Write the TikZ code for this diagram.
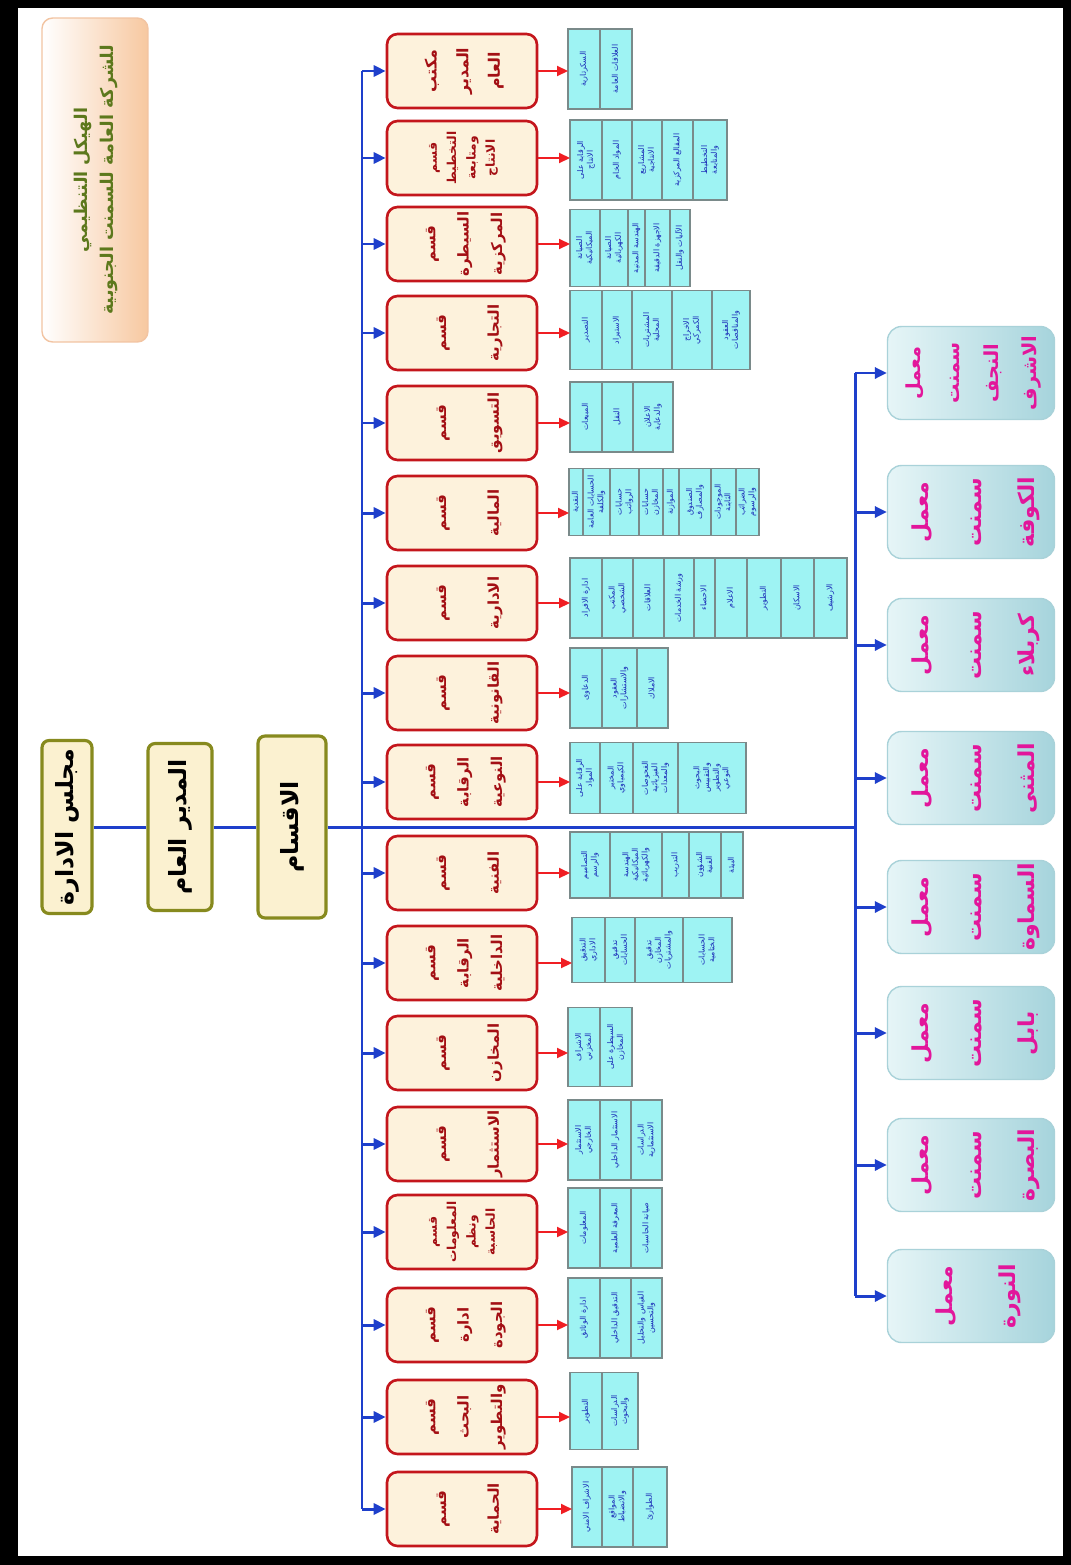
\documentclass[tikz,border=0pt]{standalone}
\usepackage{fontspec}
\usepackage{graphicx,array}
\usetikzlibrary{arrows.meta,positioning,calc}
\newfontfamily\arabicfont[Script=Arabic]{DejaVu Sans}
\TeXXeTstate=1
\definecolor{LineBlue}{HTML}{1E3FCB}
\definecolor{ArrowRed}{HTML}{F01E23}
\definecolor{DeptRed}{HTML}{C4161C}
\definecolor{DeptText}{HTML}{A30F14}
\definecolor{Cream}{HTML}{FDF2DC}
\definecolor{Olive}{HTML}{878A1E}
\definecolor{OliveFill}{HTML}{FBF1D0}
\definecolor{Aqua}{HTML}{9EF3F3}
\definecolor{CellLine}{HTML}{7A8A8A}
\definecolor{CellText}{HTML}{1B2DB8}
\definecolor{Ice}{HTML}{E6F5F7}
\definecolor{IceDeep}{HTML}{A6D4DC}
\definecolor{IceLine}{HTML}{A9D2D9}
\definecolor{Magenta}{HTML}{E2169B}
\definecolor{Peach}{HTML}{F7C8A0}
\definecolor{PeachLine}{HTML}{F2C4A2}
\definecolor{TitleGreen}{HTML}{5C781C}
% Arabic lines set as columns, read top to bottom
\newcommand{\vtext}[1]{\rotatebox{90}{\begin{tabular}{@{}c@{}}#1\end{tabular}}}
% one row of sub-units: #1 row, #2 centre y, #3 height, #4 left/width/text
\newcommand{\cellrow}[4]{%
  \foreach \xl/\w/\txt [count=\k] in {#4}{
    \node[cell,anchor=west,minimum width=\w*0.02cm,minimum height=#3*0.02cm] (c#1-\k) at (\xl,#2) {\vtext{\txt}};
  }
  \draw[rarrow] (d#1.east) -- (d#1.east -| c#1-1.west);
}

\begin{document}
\begin{tikzpicture}[x=0.02cm,y=-0.02cm]
    \tikzset{bline/.style={LineBlue,line width=1.7pt},
      barrow/.style={bline,-{Triangle[length=0.24cm,width=0.22cm]}},
      rarrow/.style={ArrowRed,line width=1.2pt,-{Triangle[length=0.22cm,width=0.2cm]}},
      titlebox/.style={rounded corners=6pt,draw=PeachLine,line width=0.8pt,left color=white,right color=Peach,
        minimum width=2.12cm,minimum height=6.48cm,inner sep=0pt,text=TitleGreen,
        font=\arabicfont\bfseries\fontsize{10}{15}\selectfont},
      chief/.style={rounded corners=4pt,draw=Olive,line width=1.8pt,fill=OliveFill,inner sep=0pt,
        font=\arabicfont\bfseries\fontsize{13.5}{18}\selectfont},
      deptbox/.style={rounded corners=6pt,draw=DeptRed,line width=1.5pt,fill=Cream,inner sep=0pt,
        minimum width=3cm,minimum height=1.48cm,text=DeptText},
      cell/.style={draw=CellLine,line width=0.6pt,fill=Aqua,inner sep=0pt,outer sep=0pt,text=CellText,
        font=\arabicfont\fontsize{4.5}{5.5}\selectfont},
      plant/.style={rounded corners=8pt,draw=IceLine,line width=0.8pt,left color=Ice,right color=IceDeep,
        minimum width=3.34cm,minimum height=1.86cm,inner sep=0pt,text=Magenta}}
    \useasboundingbox (0,0) rectangle (1071,1565);
    \fill[black] (0,0) rectangle (1071,1565);
    \fill[white] (18,8) rectangle (1063,1556);

    % title
    \node[titlebox] (title) at (95,180) {\vtext{\beginR الهيكل التنظيمي\endR\\\beginR للشركة العامة للسمنت الجنوبية\endR}};

    % board, director, divisions
    \node[chief,minimum width=1cm,minimum height=3.46cm] (board) at (67,827) {\vtext{\beginR مجلس الادارة\endR}};
    \node[chief,minimum width=1.28cm,minimum height=3.34cm] (gm) at (180,827) {\vtext{\beginR المدير العام\endR}};
    \node[chief,minimum width=1.36cm,minimum height=3.64cm] (divs) at (292,827) {\vtext{الاقسام}};
    \coordinate (hub) at (855,827);
    \draw[bline] (board) -- (gm);
    \draw[bline] (gm) -- (divs);
    \draw[bline] (divs) -- (hub);

    \coordinate (ltop) at (362,71);
    \coordinate (lbot) at (362,1509);
    \coordinate (rtop) at (855,373);
    \coordinate (rbot) at (855,1296);
    \draw[bline] (ltop) -- (lbot);
    \draw[bline] (rtop) -- (rbot);

    % departments: number/y/font size/line skip/text
    \foreach \i/\y/\fs/\bs/\txt in {1/71/9/18/{مكتب\\المدير\\العام},2/158/7/11/{قسم\\التخطيط\\ومتابعة\\الانتاج},
        3/244/8.5/19/{قسم\\السيطرة\\المركزية},4/333/8.5/30/{قسم\\التجارية},5/423/8.5/30/{قسم\\التسويق},
        6/513/8.5/30/{قسم\\المالية},7/603/8.5/30/{قسم\\الادارية},8/693/8.5/30/{قسم\\القانونية},
        9/782/8.5/19/{قسم\\الرقابة\\النوعية},10/873/8.5/30/{قسم\\الفنية},11/963/8.5/19/{قسم\\الرقابة\\الداخلية},
        12/1053/8.5/30/{قسم\\المخازن},13/1144/8.5/30/{قسم\\الاستثمار},14/1232/7/11/{قسم\\المعلومات\\ونظم\\الحاسبة},
        15/1325/8.5/19/{قسم\\ادارة\\الجودة},16/1417/8.5/19/{قسم\\البحث\\والتطوير},17/1509/8.5/30/{قسم\\الحماية}}{
      \node[deptbox,font=\arabicfont\bfseries\fontsize{\fs}{\bs}\selectfont] (d\i) at (462,\y) {\vtext{\txt}};
      \draw[barrow] (d\i.west -| ltop) -- (d\i.west);
    }

    % plants: number/y/font size/line skip/text
    \foreach \i/\y/\fs/\bs/\txt in {1/373/11/22/{معمل\\سمنت\\النجف\\الاشرف},2/512/12.5/30/{معمل\\سمنت\\الكوفة},
        3/645/12.5/30/{معمل\\سمنت\\كربلاء},4/778/12.5/30/{معمل\\سمنت\\المثنى},5/907/12.5/30/{معمل\\سمنت\\السماوة},
        6/1033/12.5/30/{معمل\\سمنت\\بابل},7/1165/12.5/30/{معمل\\سمنت\\البصرة},8/1296/12.5/36/{معمل\\النورة}}{
      \node[plant,font=\arabicfont\bfseries\fontsize{\fs}{\bs}\selectfont] (p\i) at (971,\y) {\vtext{\txt}};
      \draw[barrow] (p\i.west -| rtop) -- (p\i.west);
    }

    % sub-units
    \cellrow{1}{69}{80}{568/32/{السكرتارية},600/32/{\beginR العلاقات العامة\endR}}
    \cellrow{2}{160}{80}{570/32/{\beginR الرقابة على\endR\\الانتاج},602/30/{\beginR المواد الخام\endR},632/30/{المشاريع\\الانتاجية},
      662/31/{\beginR المقالع المركزية\endR},693/34/{التخطيط\\والمتابعة}}
    \cellrow{3}{248}{77}{570/30/{الصيانة\\الميكانيكية},600/28/{الصيانة\\الكهربائية},628/17/{\beginR الهندسة المدنية\endR},
      645/25/{\beginR الاجهزة الدقيقة\endR},670/20/{\beginR الآليات والنقل\endR}}
    \cellrow{4}{330}{79}{570/32/{التصدير},602/30/{الاستيراد},632/40/{المشتريات\\المحلية},
      672/40/{الاخراج\\الكمركي},712/38/{العقود\\والمناقصات}}
    \cellrow{5}{417}{70}{570/32/{المبيعات},602/31/{النقل},633/40/{الاعلان\\والدعاية}}
    \cellrow{6}{502}{67}{569/14/{النقدية},583/27/{\beginR الحسابات العامة\endR\\والكلفة},610/29/{حسابات\\الرواتب},
      639/24/{حسابات\\المخازن},663/16/{الموازنة},679/32/{الصندوق\\والمصارف},711/25/{الموجودات\\الثابتة},
      736/23/{الضرائب\\والرسوم}}
    \cellrow{7}{598}{80}{570/32/{\beginR ادارة الافراد\endR},602/31/{المكتب\\الشخصي},633/31/{العلاقات},664/30/{\beginR ورشة الخدمات\endR},
      694/21/{الاحصاء},715/32/{الاعلام},747/34/{التطوير},781/33/{الاسكان},814/33/{الارشيف}}
    \cellrow{8}{688}{80}{570/32/{الدعاوى},602/35/{العقود\\والاستشارات},637/31/{الاملاك}}
    \cellrow{9}{778}{71}{570/30/{\beginR الرقابة على\endR\\المواد},600/33/{المختبر\\الكيمياوي},633/45/{الفحوصات\\الفيزيائية\\والمعدات},
      678/68/{البحوث\\والتقييس\\والتطوير\\النوعي}}
    \cellrow{10}{865}{66}{570/40/{التصاميم\\والرسم},610/52/{الهندسة\\الميكانيكية\\والكهربائية},662/27/{التدريب},
      689/32/{الشؤون\\الفنية},721/22/{البيئة}}
    \cellrow{11}{950}{65}{572/33/{التدقيق\\الاداري},605/30/{تدقيق\\الحسابات},635/48/{تدقيق\\المخازن\\والمشتريات},
      683/49/{الحسابات\\الختامية}}
    \cellrow{12}{1047}{79}{568/32/{الاشراف\\المخزني},600/32/{\beginR السيطرة على\endR\\المخازن}}
    \cellrow{13}{1140}{80}{568/32/{الاستثمار\\الخارجي},600/31/{\beginR الاستثمار الداخلي\endR},631/31/{الدراسات\\الاستثمارية}}
    \cellrow{14}{1228}{80}{568/32/{المعلومات},600/31/{\beginR المعرفة العلمية\endR},631/31/{\beginR صيانة الحاسبات\endR}}
    \cellrow{15}{1318}{80}{568/32/{\beginR ادارة الوثائق\endR},600/31/{\beginR التدقيق الداخلي\endR},631/31/{\beginR القياس والتحليل\endR\\والتحسين}}
    \cellrow{16}{1411}{77}{570/32/{التطوير},602/36/{الدراسات\\والبحوث}}
    \cellrow{17}{1507}{80}{572/30/{\beginR الاشراف الامني\endR},602/31/{المواقع\\والانضباط},633/34/{الطوارئ}}
\end{tikzpicture}
\end{document}
